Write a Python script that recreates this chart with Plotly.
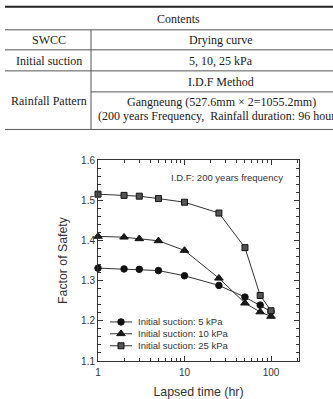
import plotly.graph_objects as go

# ---------------- data ----------------
time_hr = [1, 2, 3, 5, 10, 25, 50, 75, 100]
fs_5kpa = [1.331, 1.329, 1.328, 1.325, 1.312, 1.288, 1.259, 1.239, 1.223]
fs_10kpa = [1.410, 1.408, 1.404, 1.399, 1.375, 1.306, 1.244, 1.222, 1.211]
fs_25kpa = [1.515, 1.512, 1.510, 1.504, 1.495, 1.468, 1.382, 1.263, 1.225]
series_names = ["Initial suction: 5 kPa", "Initial suction: 10 kPa", "Initial suction: 25 kPa"]

x_tick_vals = [1, 10, 100]
x_minor_vals = [2, 3, 4, 5, 6, 7, 8, 9, 20, 30, 40, 50, 60, 70, 80, 90, 200]

table_header = "Contents"
table_row_labels = ["SWCC", "Initial suction", "Rainfall Pattern"]
table_values = ["Drying curve", "5, 10, 25 kPa", "I.D.F Method",
                "Gangneung (527.6mm × 2=1055.2mm)",
                "(200 years Frequency,\u00a0 Rainfall duration: 96 hours)"]
chart_note = "I.D.F: 200 years frequency"

# ---------------- layout geometry (pixels) ----------------
W, H = 333, 399
PL, PR, PT, PB = 98, 299, 160, 360.7


def fx(x):
    return (x - PL) / (PR - PL)


def fy(y):
    return (PB - y) / (PB - PT)


styles = [
    dict(symbol="circle", size=6.5, color="#111111", line=dict(color="#111111", width=1)),
    dict(symbol="triangle-up", size=7.5, color="#1a1a1a", line=dict(color="#111111", width=1)),
    dict(symbol="square", size=6, color="#555555", line=dict(color="#111111", width=1)),
]
series = [fs_5kpa, fs_10kpa, fs_25kpa]

fig = go.Figure()
for name, vals, st in zip(series_names, series, styles):
    fig.add_trace(go.Scatter(
        x=time_hr, y=vals, mode="lines+markers", name=name,
        line=dict(color="#333333", width=1), marker=st, showlegend=False,
        cliponaxis=False,
    ))

# manual legend on an overlay axis measured in pixels
leg_rows = [321.7, 333.5, 345.5]
for name, st, ry in zip(series_names, styles, leg_rows):
    fig.add_trace(go.Scatter(x=[110, 132], y=[ry, ry], mode="lines", xaxis="x2", yaxis="y2",
                             line=dict(color="#333333", width=1), showlegend=False, hoverinfo="skip"))
    fig.add_trace(go.Scatter(x=[121], y=[ry], mode="markers", xaxis="x2", yaxis="y2",
                             marker=st, showlegend=False, hoverinfo="skip"))

annotations = []
for name, ry in zip(series_names, leg_rows):
    annotations.append(dict(x=136, y=ry, xref="x2", yref="y2", text=name, showarrow=False,
                            xanchor="left", yanchor="middle",
                            font=dict(family="Liberation Sans", size=9.5, color="#333333")))
annotations.append(dict(x=285, y=177, xref="x2", yref="y2", text=chart_note, showarrow=False,
                        xanchor="right", yanchor="middle",
                        font=dict(family="Liberation Sans", size=9.5, color="#333333")))

# ---------------- table ----------------
serif = dict(family="Liberation Serif, Times New Roman, serif", size=12, color="#1a1a1a")
cells = [
    (table_header, 178, 19),
    (table_row_labels[0], 49, 40), (table_values[0], 221, 40),
    (table_row_labels[1], 49, 61), (table_values[1], 221, 61),
    (table_row_labels[2], 49, 101), (table_values[2], 221, 82),
    (table_values[3], 221, 102.5), (table_values[4], 221, 116),
]
for txt, cx, cy in cells:
    annotations.append(dict(x=fx(cx), y=fy(cy), xref="paper", yref="paper", text=txt,
                            showarrow=False, xanchor="center", yanchor="middle", font=serif,
                            borderpad=0))

shapes = []


def hline(y, x0, x1, w=1, c="#555555"):
    shapes.append(dict(type="line", xref="paper", yref="paper", x0=fx(x0), x1=fx(x1),
                       y0=fy(y), y1=fy(y), line=dict(color=c, width=w)))


hline(7, 5, 345, w=2, c="#222222")
for yy in [30, 50, 71, 129.5]:
    hline(yy, 5, 345)
hline(92, 91, 345)
shapes.append(dict(type="line", xref="paper", yref="paper", x0=fx(91), x1=fx(91),
                   y0=fy(30), y1=fy(129.5), line=dict(color="#555555", width=1)))

axis_common = dict(showline=True, linecolor="#333333", linewidth=1, mirror="ticks",
                   ticks="inside", tickcolor="#333333", showgrid=False, zeroline=False,
                   automargin=False,
                   tickfont=dict(family="Liberation Sans", size=10, color="#333333"))

fig.update_layout(
    width=W, height=H,
    margin=dict(l=PL, r=W - PR, t=PT, b=H - PB),
    paper_bgcolor="white", plot_bgcolor="white",
    font=dict(family="Liberation Sans", color="#333333"),
    xaxis=dict(type="log", range=[0, 2.3237], tickvals=x_tick_vals, ticktext=["1", "10", "100"],
               ticklen=5, ticklabelstandoff=2,
               minor=dict(tickvals=x_minor_vals, ticks="inside", ticklen=3,
                          tickcolor="#333333"),
               title=dict(text="Lapsed time (hr)", standoff=15,
                          font=dict(family="Liberation Sans", size=12.4, color="#333333")),
               **axis_common),
    yaxis=dict(range=[1.1, 1.6], dtick=0.1, tickformat=".1f", ticklen=5,
               minor=dict(dtick=0.02, ticks="inside", ticklen=3, tickcolor="#333333"),
               title=dict(text="Factor of Safety", standoff=10,
                          font=dict(family="Liberation Sans", size=12.3, color="#333333")),
               **axis_common),
    xaxis2=dict(overlaying="x", range=[PL, PR], visible=False, fixedrange=True),
    yaxis2=dict(overlaying="y", range=[PB, PT], visible=False, fixedrange=True),
    annotations=annotations,
    shapes=shapes,
    showlegend=False,
)

fig.write_html("out.html")
